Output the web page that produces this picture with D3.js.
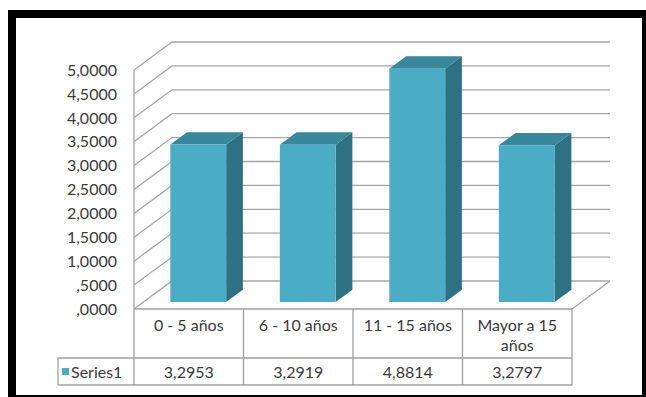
<!DOCTYPE html>
<html><head><meta charset="utf-8">
<script src="https://cdn.jsdelivr.net/npm/d3@7"></script>
<style>html,body{margin:0;padding:0;background:#fff;}svg{display:block;}</style>
</head><body>
<script>
const categories = ["0 - 5 años", "6 - 10 años", "11 - 15 años", "Mayor a 15 años"];
const categoryLines = [["0 - 5 años"], ["6 - 10 años"], ["11 - 15 años"], ["Mayor a 15", "años"]];
const seriesName = "Series1";
const values = [3.2953, 3.2919, 4.8814, 3.2797];
const valueLabels = ["3,2953", "3,2919", "4,8814", "3,2797"];
const yTicks = [0, 0.5, 1, 1.5, 2, 2.5, 3, 3.5, 4, 4.5, 5];
const yTickLabels = [",0000", ",5000", "1,0000", "1,5000", "2,0000", "2,5000", "3,0000", "3,5000", "4,0000", "4,5000", "5,0000"];

const W = 646, H = 397;
const svg = d3.select("body").append("svg").attr("width", W).attr("height", H);
const font = "Lato, 'Open Sans', sans-serif";
const textColor = "#3a3a3a";
const gridColor = "#a6a6a6";

// frame
svg.append("path")
  .attr("d", "M8,10H646V397H8Z M16,18V395H642V18Z")
  .attr("fill", "#000").attr("fill-rule", "evenodd");

// scales (front plane)
const x = d3.scaleBand().domain(categories).range([134, 572]).paddingInner(0).paddingOuter(0);
const y = d3.scaleLinear().domain([0, 5]).range([309, 70]);
const D = {dx: 38, dy: -28}; // full depth vector
const backRight = 610;

// walls gridlines
const g = svg.append("g");
yTicks.forEach(t => {
  const yf = y(t);
  g.append("path")
    .attr("d", `M${x.range()[0]},${yf}L${x.range()[0] + D.dx},${yf + D.dy}H${backRight}`)
    .attr("fill", "none").attr("stroke", gridColor).attr("stroke-width", 1.3);
});
// left front vertical edge
g.append("line").attr("x1", 134).attr("x2", 134).attr("y1", y(5)).attr("y2", y(0))
  .attr("stroke", gridColor).attr("stroke-width", 1.3);
// floor right edge
g.append("line").attr("x1", 572).attr("y1", y(0)).attr("x2", 572 + D.dx).attr("y2", y(0) + D.dy)
  .attr("stroke", gridColor).attr("stroke-width", 1.3);

// y labels
svg.append("g").selectAll("text").data(yTicks).join("text")
  .attr("x", 117).attr("y", d => y(d)).attr("dy", "0.36em")
  .attr("text-anchor", "end").attr("font-family", font).attr("font-size", 16)
  .attr("fill", textColor).text((d, i) => yTickLabels[i]);

// bars
const f0 = 0.25, fd = 0.44;
const bw = x.bandwidth() * 0.51;
const cFront = "#4bacc6", cTop = "#38879b", cSide = "#2e7183";
const bars = svg.append("g");
categories.forEach((c, i) => {
  const ox = D.dx * f0, oy = D.dy * f0;
  const ddx = D.dx * fd, ddy = D.dy * fd;
  const x0 = x(c) + x.bandwidth() / 2 - bw / 2 + ox;
  const x1 = x0 + bw;
  const yb = y(0) + oy;
  const yt = y(values[i]) + oy;
  // side
  bars.append("path").attr("d", `M${x1},${yt}L${x1 + ddx},${yt + ddy}L${x1 + ddx},${yb + ddy}L${x1},${yb}Z`).attr("fill", cSide);
  // top
  bars.append("path").attr("d", `M${x0},${yt}L${x0 + ddx},${yt + ddy}L${x1 + ddx},${yt + ddy}L${x1},${yt}Z`).attr("fill", cTop);
  // front
  bars.append("rect").attr("x", x0).attr("y", yt).attr("width", bw).attr("height", yb - yt).attr("fill", cFront);
});

// data table
const tb = svg.append("g");
const tc = "#a0a0a0";
const rowTop = 309, rowMid = 358, rowBot = 385, legLeft = 58;
tb.append("line").attr("x1", 134).attr("x2", 572).attr("y1", rowTop).attr("y2", rowTop).attr("stroke", tc).attr("stroke-width", 1.3);
tb.append("line").attr("x1", legLeft).attr("x2", 572).attr("y1", rowMid).attr("y2", rowMid).attr("stroke", tc).attr("stroke-width", 1.3);
tb.append("line").attr("x1", legLeft).attr("x2", 572).attr("y1", rowBot).attr("y2", rowBot).attr("stroke", tc).attr("stroke-width", 1.3);
tb.append("line").attr("x1", legLeft).attr("x2", legLeft).attr("y1", rowMid).attr("y2", rowBot).attr("stroke", tc).attr("stroke-width", 1.3);
[...categories.map(c => x(c)), 572].forEach(xx => {
  tb.append("line").attr("x1", xx).attr("x2", xx).attr("y1", rowTop).attr("y2", rowBot).attr("stroke", tc).attr("stroke-width", 1.3);
});
categories.forEach((c, i) => {
  const t = tb.append("text").attr("x", x(c) + x.bandwidth() / 2).attr("y", 331)
    .attr("text-anchor", "middle").attr("font-family", font).attr("font-size", 16).attr("fill", textColor);
  categoryLines[i].forEach((l, j) => t.append("tspan").attr("x", x(c) + x.bandwidth() / 2).attr("dy", j === 0 ? 0 : 20).text(l));
  tb.append("text").attr("x", x(c) + x.bandwidth() / 2).attr("y", rowMid + 14).attr("dy", "0.36em")
    .attr("text-anchor", "middle").attr("font-family", font).attr("font-size", 16).attr("fill", textColor).text(valueLabels[i]);
});
tb.append("rect").attr("x", 62).attr("y", 368).attr("width", 7).attr("height", 7).attr("fill", cFront);
tb.append("text").attr("x", 71).attr("y", rowMid + 14).attr("dy", "0.36em")
  .attr("font-family", font).attr("font-size", 16).attr("fill", textColor).text(seriesName);
</script>
</body></html>
